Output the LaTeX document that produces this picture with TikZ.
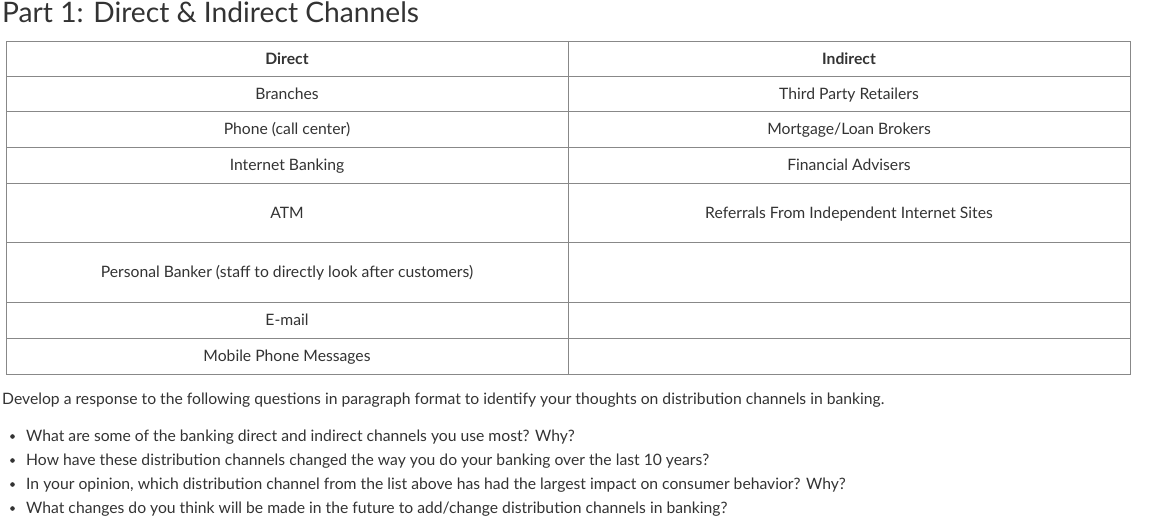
\documentclass[tikz,border=0pt]{standalone}
\usepackage{fontspec}
\setmainfont{Lato}
\definecolor{txt}{HTML}{333333}
\definecolor{rule}{HTML}{888888}
\begin{document}
\begin{tikzpicture}[x=1pt,y=-1pt,
  cell/.style={font=\fontsize{15.7}{18}\selectfont,text=txt,anchor=center,inner sep=0,text height=11.5,text depth=0},
  para/.style={font=\fontsize{15.7}{18}\selectfont,text=txt,anchor=base west,inner sep=0}]
\useasboundingbox (0,0) rectangle (1158,526);
\node[anchor=base west,inner sep=0,text=txt,font=\fontsize{28.2}{32}\selectfont] (title) at (2,23) {Part 1: Direct \& Indirect Channels};
\draw[rule,line width=0.8pt] (6,41) rectangle (1130,374);
\draw[rule,line width=0.8pt] (568,41) -- (568,374);
\foreach \y in {76,111,147,183,242,302,338} \draw[rule,line width=0.8pt] (6,\y) -- (1130,\y);
\node[cell,font=\fontsize{15.7}{18}\selectfont\bfseries] (h1) at (287,58.5) {Direct};
\node[cell,font=\fontsize{15.7}{18}\selectfont\bfseries] (h2) at (849,58.5) {Indirect};
\node[cell] (a1) at (287,93.5) {Branches};
\node[cell] (a2) at (287,129) {Phone (call center)};
\node[cell] (a3) at (287,165) {Internet Banking};
\node[cell] (a4) at (287,212.5) {ATM};
\node[cell] (a5) at (287,272) {Personal Banker (staff to directly look after customers)};
\node[cell] (a6) at (287,320) {E-mail};
\node[cell] (a7) at (287,356) {Mobile Phone Messages};
\node[cell] (b1) at (849,93.5) {Third Party Retailers};
\node[cell] (b2) at (849,129) {Mortgage/Loan Brokers};
\node[cell] (b3) at (849,165) {Financial Advisers};
\node[cell] (b4) at (849,212.5) {Referrals From Independent Internet Sites};
\node[para] (p) at (2,404) {Develop a response to the following questions in paragraph format to identify your thoughts on distribution channels in banking.};
\foreach \y/\t [count=\i] in {441/{What are some of the banking direct and indirect channels you use most? Why?},
  465/{How have these distribution channels changed the way you do your banking over the last 10 years?},
  489/{In your opinion, which distribution channel from the list above has had the largest impact on consumer behavior? Why?},
  513/{What changes do you think will be made in the future to add/change distribution channels in banking?}}{
  \fill[txt] (12.5,\y-4.5) circle (2.3);
  \node[para] (q\i) at (26,\y) {\t};
}
\end{tikzpicture}
\end{document}
